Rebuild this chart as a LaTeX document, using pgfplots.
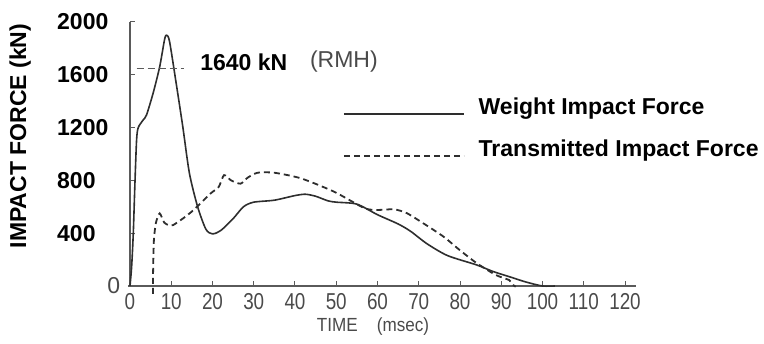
\documentclass[border=0pt]{standalone}
\usepackage{pgfplots}
\pgfplotsset{compat=1.18}
\usepackage{fontspec}
\setmainfont{Liberation Sans}
\newfontfamily\narrowfont[FakeStretch=0.82]{Liberation Sans}
\newfontfamily\labelfont[FakeStretch=0.9]{Liberation Sans}
\definecolor{curve}{HTML}{2E2E2E}
\definecolor{axgray}{HTML}{5A5A5A}
\definecolor{tickgray}{HTML}{4A4A4A}
\begin{document}
\fontsize{23}{27}\selectfont
\begin{tikzpicture}
\begin{axis}[
  scale only axis,
  width=495pt, height=264pt,
  xmin=0, xmax=120, ymin=0, ymax=2000,
  clip=false,
  axis lines=left,
  axis line style={-, axgray, line width=1.2pt},
  x axis line style={shorten >=-11pt, shorten <=-2pt},
  tick align=inside,
  tick pos=left,
  major tick length=5pt,
  tick style={axgray, line width=1pt},
  xtick={0,10,...,120},
  xticklabels={0,10,20,30,40,50,60,70,80,90,100,110,120},
  xticklabel style={font=\narrowfont\fontsize{23}{25}\selectfont, text=tickgray, inner sep=0pt, yshift=-7pt},
  ytick={0,400,800,1200,1600,2000},
  yticklabels={{\makebox[63pt][r]{\mdseries\color{tickgray}0}},400,800,1200,1600,2000},
  yticklabel style={font=\bfseries\fontsize{23}{25}\selectfont, anchor=west, inner sep=0pt, xshift=-73pt},
  xlabel={TIME\quad(msec)},
  xlabel style={font=\labelfont\fontsize{19}{21}\selectfont, text=tickgray, at={(rel axis cs:0.491,-0.155)}, anchor=center},
  ylabel={IMPACT FORCE (kN)},
  ylabel style={font=\bfseries\fontsize{23}{25}\selectfont, at={(rel axis cs:-0.222,0.568)}, anchor=center},
  legend style={draw=none, fill=none, at={(rel axis cs:0.424,0.7235)}, anchor=north west,
    font=\bfseries\fontsize{23}{25}\selectfont, nodes={inner sep=0pt, text height=17pt, text depth=5pt},
    row sep=20pt, column sep=14pt, legend cell align=left},
  legend image code/.code={\draw[#1, line width=1.4pt] (0pt,-6pt) -- (120pt,-6pt); \path (0pt,6pt);},
]
\addplot[curve, line width=1.6pt, smooth, tension=0.45] coordinates {
(0,0) (0.4,146) (0.8,400) (1.2,780) (1.6,1106) (2.0,1200) (3.2,1258) (4.0,1295)
(5.6,1460) (7.2,1661) (8.4,1870) (8.9,1900) (9.6,1851) (11.2,1535) (12.8,1207)
(14.4,855) (16.4,600) (18.4,430) (20,395) (22,420) (25,510) (27.5,600) (30,635)
(35,650) (40,685) (42.5,695) (45,680) (48,645) (50,635) (55,620) (60,540)
(65,470) (68,415) (72,320) (77,230) (84,160) (88,110) (92,70) (96,30) (100,0) (103,0)
};
\addlegendentry{Weight Impact Force}
\addplot[curve, line width=1.8pt, dash pattern=on 6pt off 4pt, smooth, tension=0.4] coordinates {
(5.6,-60) (5.6,100) (5.8,350) (6.3,480) (7.2,550) (8.3,480) (9.5,460) (10.5,462)
(13,515) (15.5,578) (19.5,700) (21.5,750) (22.8,840) (24.5,800) (26.8,775)
(28.5,820) (30.9,858) (35,858) (41.5,815) (49.5,714) (56.8,590) (60,576)
(64,581) (67.1,552) (71.1,475) (76,374) (79.9,273) (84,174) (88.7,83)
(91.9,45) (93,5) (93.5,-5)
};
\addlegendentry{Transmitted Impact Force}
\addplot[axgray, line width=1.3pt, dash pattern=on 7pt off 4pt, forget plot] coordinates {(1.6,1645) (13.2,1645)};
\node[anchor=west, inner sep=0pt, font=\bfseries] at (axis cs:17,1697) {1640 kN};
\node[anchor=west, inner sep=0pt, text=tickgray] at (axis cs:43.6,1697) {(RMH)};
\coordinate (BL) at (rel axis cs:-0.2626,-0.197);
\coordinate (TR) at (rel axis cs:1.2808,1.0833);
\end{axis}
\path (BL) rectangle (TR);
\end{tikzpicture}
\end{document}
